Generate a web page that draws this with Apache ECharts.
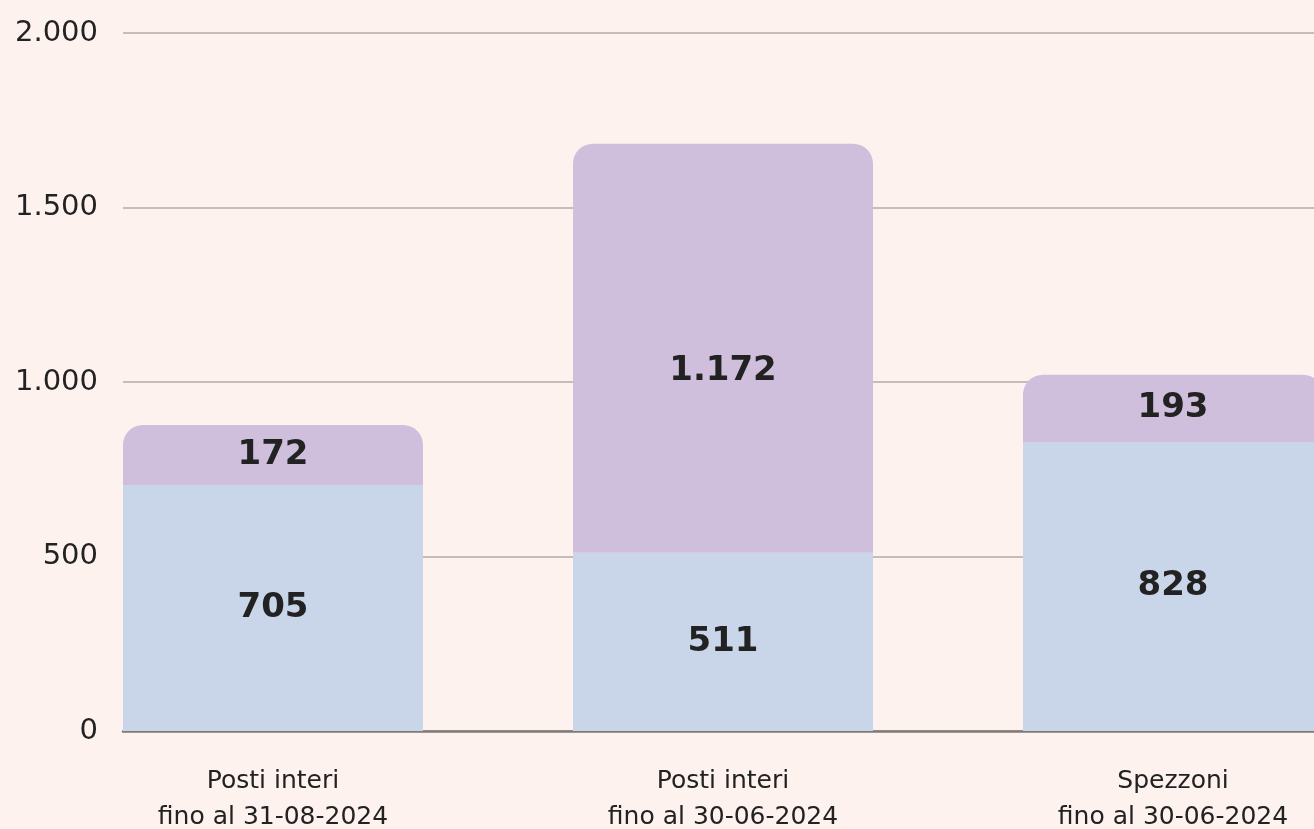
<!DOCTYPE html>
<html>
<head>
<meta charset="utf-8">
<script src="https://cdn.jsdelivr.net/npm/echarts@6/dist/echarts.min.js"></script>
<style>
html,body{margin:0;padding:0;background:#fdf2ee;}
#c{width:1314px;height:829px;}
</style>
</head>
<body>
<div id="c"></div>
<script>
const categories = ['Posti interi\nfino al 31-08-2024', 'Posti interi\nfino al 30-06-2024', 'Spezzoni\nfino al 30-06-2024'];
const bottomValues = [705, 511, 828];
const topValues = [172, 1172, 193];
const yTicks = [0, 500, 1000, 1500, 2000];

const fmt = v => String(v).replace(/\B(?=(\d{3})+(?!\d))/g, '.');
const FONT = "'DejaVu Sans', sans-serif";
const chart = echarts.init(document.getElementById('c'));
const yMin = yTicks[0], yMax = yTicks[yTicks.length - 1], yStep = yTicks[1] - yTicks[0];

chart.setOption({
  backgroundColor: '#fdf2ee',
  animation: false,
  grid: [
    {left: 48, right: -84, top: 33, bottom: 98, outerBoundsMode: 'none', containLabel: false},
    {left: 123, right: 0, top: 33, bottom: 98, outerBoundsMode: 'none', containLabel: false}
  ],
  xAxis: [
    {type: 'category', gridIndex: 0, data: categories,
     axisLine: {show: false}, axisTick: {show: false},
     axisLabel: {color: '#222', fontFamily: FONT, fontSize: 25, lineHeight: 36, margin: 32, interval: 0}},
    {type: 'value', gridIndex: 1, min: 0, max: 1,
     axisLine: {show: true, lineStyle: {color: '#7f7a7a', width: 2.5}},
     axisTick: {show: false}, axisLabel: {show: false}, splitLine: {show: false}}
  ],
  yAxis: [
    {type: 'value', gridIndex: 0, min: yMin, max: yMax, interval: yStep,
     axisLine: {show: false}, axisTick: {show: false}, axisLabel: {show: false}, splitLine: {show: false}},
    {type: 'value', gridIndex: 1, min: yMin, max: yMax, interval: yStep,
     axisLine: {show: false}, axisTick: {show: false},
     axisLabel: {color: '#222', fontFamily: FONT, fontSize: 29, margin: 25, formatter: fmt},
     splitLine: {show: true, lineStyle: {color: '#c6bcbc', width: 2}}}
  ],
  series: [
    {type: 'bar', xAxisIndex: 0, yAxisIndex: 0, stack: 's', barWidth: 300,
     data: bottomValues, itemStyle: {color: '#c9d5e9'},
     label: {show: true, position: 'inside', color: '#222', fontFamily: FONT, fontWeight: 'bold', fontSize: 34, formatter: p => fmt(p.value)}},
    {type: 'bar', xAxisIndex: 0, yAxisIndex: 0, stack: 's', barWidth: 300,
     data: topValues.map((v, i) => (v > 1000 ? {value: v, label: {offset: [0, 23]}} : v)),
     itemStyle: {color: '#cfbfdc', borderRadius: [20, 20, 0, 0]},
     label: {show: true, position: 'inside', color: '#222', fontFamily: FONT, fontWeight: 'bold', fontSize: 34, formatter: p => fmt(p.value)}}
  ]
});
</script>
</body>
</html>
